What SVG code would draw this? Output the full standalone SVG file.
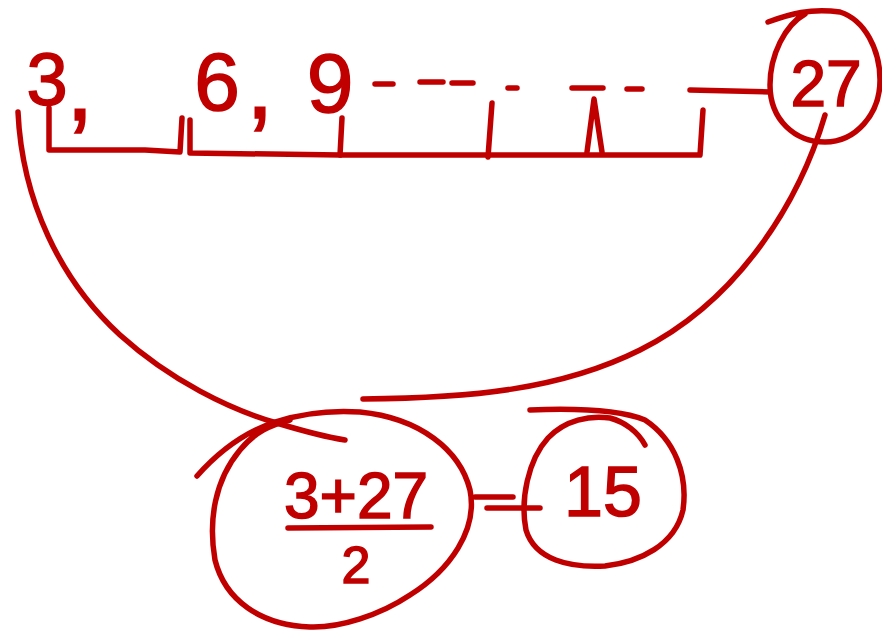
<svg xmlns="http://www.w3.org/2000/svg" width="882" height="635" viewBox="0 0 882 635">
<style>
.s{fill:none;stroke:#c00000;stroke-width:5.5;stroke-linecap:round;stroke-linejoin:round}
.t{fill:#c00000;stroke:#c00000;stroke-width:1.5;font-family:"Liberation Sans",Arial,sans-serif;text-anchor:middle}
</style>
<rect width="882" height="635" fill="#ffffff"/>
<g id="connectors">
<path class="s" d="M18,112 C22,200 60,280 120,335 C170,380 230,410 280,424 C300,430 320,436 345,440"/>
<path class="s" d="M825,115 C800,200 740,300 640,350 C560,390 470,398 363,399"/>
<path class="s" d="M375,84 L393,84 M420,82 L443,82 M452,83 L473,83 M508,88 L517,88 M572,88 L603,88 M627,89 L642,89 M690,90 L770,92"/>
<path class="s" d="M475,497 L513,497 M487,508 L540,508"/>
</g>
<g id="scale">
<path class="s" d="M49,108 L49,150 L145,150 L180,152 L182,118"/>
<path class="s" d="M190,120 L190,153 L340,155 L700,155 L703,110"/>
<path class="s" d="M342,118 L340,155"/>
<path class="s" d="M492,103 L488,157"/>
<path class="s" d="M587,152 L594,99 L602,152"/>
</g>
<g id="n3"><text class="t" x="47" y="105" font-size="74">3</text><text class="t" x="80" y="120" font-size="100">,</text></g>
<g id="n6"><text class="t" x="217" y="110" font-size="82">6</text><text class="t" x="260" y="118" font-size="100">,</text></g>
<g id="n9"><text class="t" x="330" y="112" font-size="84">9</text></g>
<g id="n27">
<path class="s" d="M768,22 C790,14 810,8 840,12 C865,20 880,50 880,80 C880,115 855,142 825,142 C795,142 770,120 770,85 C770,55 785,25 805,14"/>
<text class="t" x="826" y="106" font-size="64">27</text>
</g>
<g id="mid">
<path class="s" d="M197,476 C220,450 245,432 275,422 C300,414 330,410 360,412 C420,418 460,450 470,490 C478,530 450,570 410,595 C380,615 340,628 310,627 C260,625 225,600 215,560 C208,520 215,480 240,450 C255,432 270,425 290,420"/>
<text class="t" x="356" y="518" font-size="64">3+27</text>
<path class="s" d="M288,528 L431,527"/>
<text class="t" x="356" y="583" font-size="52">2</text>
</g>
<g id="n15">
<path class="s" d="M530,410 C580,408 620,410 645,420 C675,440 688,475 683,510 C675,545 640,562 605,566 C570,568 535,560 526,530 C520,500 528,460 548,438 C565,420 590,415 610,418 C625,422 638,432 645,445"/>
<text class="t" x="603" y="516" font-size="70">15</text>
</g>
</svg>
